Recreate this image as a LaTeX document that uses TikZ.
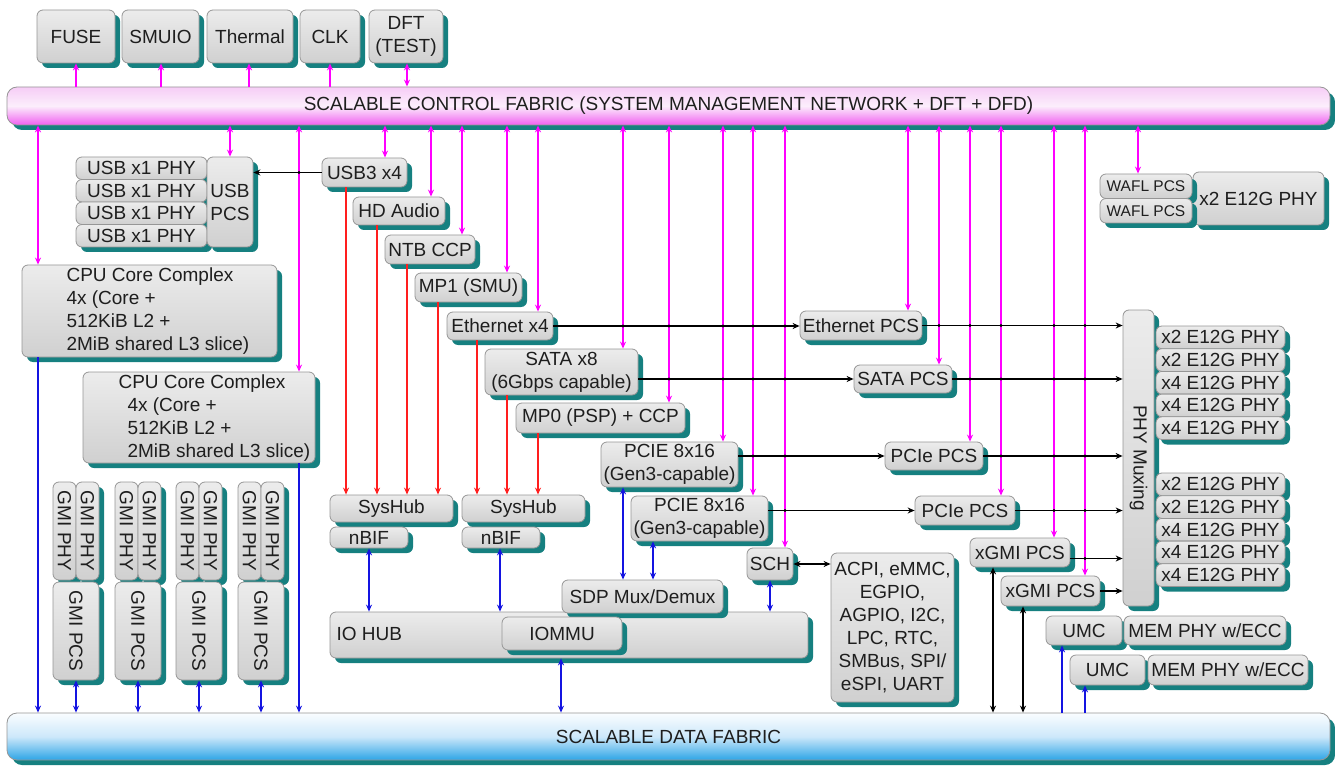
\documentclass[tikz,border=0pt]{standalone}
\usepackage{fontspec}
\setmainfont{Liberation Sans}
\usetikzlibrary{arrows.meta,shadows,calc}
\definecolor{tealsh}{RGB}{22,128,128}
\definecolor{boxtop}{RGB}{236,236,236}
\definecolor{boxbot}{RGB}{208,208,208}
\definecolor{boxline}{RGB}{150,150,150}
\definecolor{magc}{RGB}{255,0,255}
\definecolor{redc}{RGB}{255,30,30}
\definecolor{bluec}{RGB}{20,20,225}
\definecolor{txtc}{RGB}{30,30,30}
\definecolor{cfTop}{RGB}{246,205,246}
\definecolor{cfMid}{RGB}{252,238,252}
\definecolor{cfBot}{RGB}{240,95,240}
\definecolor{dfTop}{RGB}{250,253,255}
\definecolor{dfMid}{RGB}{205,232,250}
\definecolor{dfBot}{RGB}{45,165,230}

\newcommand\mybox[7][]{%
  \pgfmathsetmacro\bw{(#5)-(#3)}%
  \pgfmathsetmacro\bh{(#6)-(#4)}%
  \pgfmathsetmacro\bcx{((#3)+(#5))/2}%
  \pgfmathsetmacro\bcy{((#4)+(#6))/2}%
  \node[box,minimum width=\bw pt,minimum height=\bh pt,#1] (#2) at (\bcx,\bcy) {#7};%
}

\begin{document}
\begin{tikzpicture}[x=1pt,y=-1pt,
  >={Stealth[length=7pt,width=6pt]},
  every node/.style={font=\fontsize{19}{23}\selectfont, text=txtc},
  box/.style={draw=boxline, line width=0.8pt, rounded corners=6pt,
    top color=boxtop, bottom color=boxbot, inner sep=0pt, align=center,
    drop shadow={shadow xshift=5pt, shadow yshift=-5pt, fill=tealsh, opacity=1}},
  cfbar/.style={rounded corners=10pt, top color=cfTop, bottom color=cfBot, middle color=cfMid},
  dfbar/.style={rounded corners=10pt, top color=dfTop, bottom color=dfBot, middle color=dfMid},
  small/.style={font=\fontsize{15.5}{18}\selectfont},
  mag/.style={draw=magc, line width=2pt, <->},
  redl/.style={draw=redc, line width=2pt, ->},
  bluel/.style={draw=bluec, line width=2pt},
  blk/.style={draw=black, line width=1.6pt}
]
\useasboundingbox (0,0) rectangle (1335,767);

% ---------- top blocks
\mybox{fuse}{37}{10}{115}{63}{FUSE}
\mybox{smuio}{122}{10}{199}{63}{SMUIO}
\mybox{thermal}{207}{10}{293}{63}{Thermal}
\mybox{clk}{300}{10}{360}{63}{CLK}
\mybox{dft}{369}{10}{443}{63}{DFT\\(TEST)}

% ---------- fabrics
\mybox[cfbar]{cf}{7}{87}{1330}{125}{SCALABLE CONTROL FABRIC (SYSTEM MANAGEMENT NETWORK + DFT + DFD)}
\mybox[dfbar]{df}{7}{713}{1330}{760}{SCALABLE DATA FABRIC}

% ---------- USB
\mybox{usbpA}{76}{157}{207}{179.5}{USB x1 PHY}
\mybox{usbpB}{76}{179.5}{207}{202}{USB x1 PHY}
\mybox{usbpC}{76}{202}{207}{224.5}{USB x1 PHY}
\mybox{usbpD}{76}{224.5}{207}{247}{USB x1 PHY}
\mybox{usbpcs}{207}{157}{253}{247}{USB\\PCS}

% ---------- staircase
\mybox{usb3}{322}{158}{407}{187}{USB3 x4}
\mybox{hda}{353}{197}{445}{225}{HD Audio}
\mybox{ntb}{385}{235}{475}{264}{NTB CCP}
\mybox{mp1}{415}{273}{522}{302}{MP1 (SMU)}
\mybox{eth}{447}{312}{553}{340}{Ethernet x4}
\mybox{sata}{485}{349}{638}{395}{SATA x8\\(6Gbps capable)}
\mybox{mp0}{516}{403}{685}{433}{MP0 (PSP) + CCP}
\mybox{pcieA}{601}{442}{738}{487}{PCIE 8x16\\(Gen3-capable)}
\mybox{pcieB}{631}{496}{768}{541}{PCIE 8x16\\(Gen3-capable)}

% ---------- CPU complexes
\mybox{cpuA}{22}{265}{277}{357}{}
\node[anchor=west, align=left] (cpuAt) at (63,311) {CPU Core Complex\\4x (Core +\\512KiB L2 +\\2MiB shared L3 slice)};
\mybox{cpuB}{83}{372}{315}{463}{}
\node[anchor=west, align=left] (cpuBt) at (115,418) {CPU Core Complex\\\hspace*{9pt}4x (Core +\\\hspace*{9pt}512KiB L2 +\\\hspace*{9pt}2MiB shared L3 slice)};

% ---------- GMI
\foreach \g/\x in {1/53,2/115,3/176,4/238} {
  \mybox{gphya\g}{\x}{482}{\x+23}{580}{}
  \node[rotate=-90] at (gphya\g.center) {GMI PHY};
  \mybox{gphyb\g}{\x+23}{482}{\x+46}{580}{}
  \node[rotate=-90] at (gphyb\g.center) {GMI PHY};
  \mybox{gpcs\g}{\x}{582}{\x+46}{680}{}
  \node[rotate=-90] at (gpcs\g.center) {GMI PCS};
}

% ---------- IO hub area
\mybox{shA}{330}{495}{453}{522}{SysHub}
\mybox{shB}{462}{495}{585}{522}{SysHub}
\mybox{nbifA}{330}{527}{408}{548}{nBIF}
\mybox{nbifB}{462}{527}{540}{548}{nBIF}
\mybox{iohub}{330}{612}{808}{658}{}
\node[anchor=west] (iohubt) at (333,634) {IO HUB};
\mybox{sdp}{562}{580}{723}{613}{SDP Mux/Demux}
\mybox{iommu}{502}{617}{622}{650}{IOMMU}
\mybox{sch}{747}{548}{793}{580}{SCH}
\mybox{acpi}{831}{553}{954}{702}{ACPI, eMMC,\\EGPIO,\\AGPIO, I2C,\\LPC, RTC,\\SMBus, SPI/\\eSPI, UART}

% ---------- PCS column
\mybox{ethpcs}{800}{311}{922}{340}{Ethernet PCS}
\mybox{satapcs}{854}{365}{952}{393}{SATA PCS}
\mybox{ppcsA}{885}{442}{983}{470}{PCIe PCS}
\mybox{ppcsB}{915}{496}{1015}{525}{PCIe PCS}
\mybox{xgmiA}{970}{538}{1070}{567}{xGMI PCS}
\mybox{xgmiB}{1001}{576}{1100}{606}{xGMI PCS}

% ---------- memory
\mybox{umcA}{1046}{616}{1122}{645}{UMC}
\mybox{memA}{1124}{616}{1286}{645}{MEM PHY w/ECC}
\mybox{umcB}{1070}{655}{1145}{685}{UMC}
\mybox{memB}{1148}{655}{1308}{685}{MEM PHY w/ECC}

% ---------- WAFL
\mybox{wphy}{1193}{172}{1324}{225}{x2 E12G PHY}
\mybox[small]{waflA}{1100}{174}{1192}{198.5}{WAFL PCS}
\mybox[small]{waflB}{1100}{198.5}{1192}{223}{WAFL PCS}

% ---------- PHY muxing
\mybox{phymux}{1123}{310}{1154}{606}{}
\node[rotate=-90] (phymuxt) at (phymux.center) {PHY Muxing};
\mybox{eA}{1156}{326}{1285}{348.7}{x2 E12G PHY}
\mybox{eB}{1156}{348.7}{1285}{371.4}{x2 E12G PHY}
\mybox{eC}{1156}{371.4}{1285}{394.1}{x4 E12G PHY}
\mybox{eD}{1156}{394.1}{1285}{416.8}{x4 E12G PHY}
\mybox{eE}{1156}{416.8}{1285}{439.5}{x4 E12G PHY}
\mybox{eF}{1156}{473}{1285}{495.7}{x2 E12G PHY}
\mybox{eG}{1156}{495.7}{1285}{518.4}{x2 E12G PHY}
\mybox{eH}{1156}{518.4}{1285}{541.1}{x4 E12G PHY}
\mybox{eI}{1156}{541.1}{1285}{563.8}{x4 E12G PHY}
\mybox{eJ}{1156}{563.8}{1285}{586.5}{x4 E12G PHY}

% ---------- control fabric connectors
\foreach \n/\x in {fuse/76, smuio/161, thermal/249, clk/330}
  \draw[mag,->] (\x,0 |- cf.north) -- (\x,0 |- \n.south);
\draw[mag] (407,0 |- cf.north) -- (407,0 |- dft.south);
\foreach \x/\n in {38/cpuA, 230/usbpcs, 299/cpuB, 385/usb3, 431/hda, 462/ntb, 507/mp1, 538/eth,
                   623/sata, 669/mp0, 723/pcieA, 753/pcieB, 785/sch, 908/ethpcs, 939/satapcs,
                   970/ppcsA, 1001/ppcsB, 1054/xgmiA, 1085/xgmiB, 1138/waflA}
  \draw[mag] (\x,0 |- cf.south) -- (\x,0 |- \n.north);

% ---------- red (to SysHub)
\foreach \x/\a/\b in {346/usb3/shA, 377/hda/shA, 407/ntb/shA, 438/mp1/shA,
                      477/eth/shB, 507/sata/shB, 538/mp0/shB}
  \draw[redl] (\x,0 |- \a.south) -- (\x,0 |- \b.north);

% ---------- blue (data)
\draw[bluel,->] (38,0 |- cpuA.south) -- (38,0 |- df.north);
\draw[bluel,->] (299,0 |- cpuB.south) -- (299,0 |- df.north);
\foreach \g in {1,2,3,4}
  \draw[bluel,<->] (gpcs\g.south) -- (gpcs\g.south |- df.north);
\draw[bluel,<->] (369,0 |- nbifA.south) -- (369,0 |- iohub.north);
\draw[bluel,<->] (500,0 |- nbifB.south) -- (500,0 |- iohub.north);
\draw[bluel,<->] (sch.south) -- (sch.south |- iohub.north);
\draw[bluel,<->] (623,0 |- pcieA.south) -- (623,0 |- sdp.north);
\draw[bluel,<->] (653,0 |- pcieB.south) -- (653,0 |- sdp.north);
\draw[bluel,<->] (561,0 |- iohub.south) -- (561,0 |- df.north);
\draw[bluel,->] (1062,0 |- df.north) -- (1062,0 |- umcA.south);
\draw[bluel,->] (1085,0 |- df.north) -- (1085,0 |- umcB.south);

% ---------- black
\draw[blk,<->] (993,0 |- xgmiA.south) -- (993,0 |- df.north);
\draw[blk,<->] (1023,0 |- xgmiB.south) -- (1023,0 |- df.north);
\draw[blk,->] (usb3.west) -- (usb3.west -| usbpcs.east);
\draw[blk,->] (eth.east) -- (eth.east -| ethpcs.west);
\draw[blk,->] (ethpcs.east) -- (ethpcs.east -| phymux.west);
\draw[blk,->] (satapcs.west -| sata.east) -- (satapcs.west);
\draw[blk,->] (satapcs.east) -- (satapcs.east -| phymux.west);
\draw[blk,->] (ppcsA.west -| pcieA.east) -- (ppcsA.west);
\draw[blk,->] (ppcsA.east) -- (ppcsA.east -| phymux.west);
\draw[blk,->] (ppcsB.west -| pcieB.east) -- (ppcsB.west);
\draw[blk,->] (ppcsB.east) -- (ppcsB.east -| phymux.west);
\coordinate (xa) at ($(xgmiA.east)+(0,6)$);
\draw[blk,->] (xa) -- (xa -| phymux.west);
\draw[blk,->] (xgmiB.east) -- (xgmiB.east -| phymux.west);
\draw[blk,<->] (sch.east) -- (sch.east -| acpi.west);

% crossing dots
\foreach \p in {(299,172.5),
  (623,326),(669,326),(723,326),(753,326),(785,326),(939,325.5),(970,325.5),(1001,325.5),(1054,325.5),(1085,325.5),
  (669,379),(723,379),(753,379),(785,379),(970,379),(1001,379),(1054,379),(1085,379),
  (753,456),(785,456),(1001,456),(1054,456),(1085,456),
  (785,510.5),(1054,510.5),(1085,510.5),(1085,558.5)}
  \fill \p circle (1.7pt);
\end{tikzpicture}
\end{document}
